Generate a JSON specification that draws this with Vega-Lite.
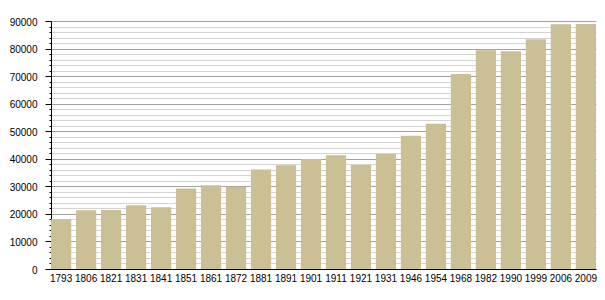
{
  "$schema": "https://vega.github.io/schema/vega-lite/v6.json",
  "width": 545,
  "height": 248,
  "autosize": "none",
  "padding": {"left": 51, "top": 21, "right": 9, "bottom": 31},
  "background": "white",
  "data": {"values": [
    {"year": "1793", "pop": 18050},
    {"year": "1806", "pop": 21300},
    {"year": "1821", "pop": 21400},
    {"year": "1831", "pop": 23100},
    {"year": "1841", "pop": 22400},
    {"year": "1851", "pop": 29200},
    {"year": "1861", "pop": 30400},
    {"year": "1872", "pop": 29850},
    {"year": "1881", "pop": 36100},
    {"year": "1891", "pop": 37650},
    {"year": "1901", "pop": 39950},
    {"year": "1911", "pop": 41250},
    {"year": "1921", "pop": 37700},
    {"year": "1931", "pop": 41750},
    {"year": "1946", "pop": 48400},
    {"year": "1954", "pop": 52700},
    {"year": "1968", "pop": 70750},
    {"year": "1982", "pop": 79400},
    {"year": "1990", "pop": 79050},
    {"year": "1999", "pop": 83400},
    {"year": "2006", "pop": 88800},
    {"year": "2009", "pop": 88900}
  ]},
  "config": {
    "view": {"stroke": null},
    "font": "Liberation Sans"
  },
  "mark": {"type": "bar", "color": "#CBBF96"},
  "encoding": {
    "x": {
      "field": "year", "type": "ordinal", "sort": null,
      "scale": {"paddingInner": 0.19, "paddingOuter": 0},
      "axis": {
        "title": null, "labelAngle": 0, "labelFontSize": 10, "labelColor": "#000",
        "domainColor": "#000", "domainWidth": 1, "ticks": false, "labelPadding": 4
      }
    },
    "y": {
      "field": "pop", "type": "quantitative",
      "scale": {"domain": [0, 90000], "nice": false},
      "axis": {
        "title": null,
        "values": [0,2000,4000,6000,8000,10000,12000,14000,16000,18000,20000,22000,24000,26000,28000,30000,32000,34000,36000,38000,40000,42000,44000,46000,48000,50000,52000,54000,56000,58000,60000,62000,64000,66000,68000,70000,72000,74000,76000,78000,80000,82000,84000,86000,88000,90000],
        "labelExpr": "datum.value % 10000 === 0 ? datum.value : ''",
        "format": "d",
        "labelFontSize": 10, "labelColor": "#000", "labelPadding": 8, "labelOffset": 1,
        "domainColor": "#000", "tickColor": "#000",
        "tickSize": {"condition": {"test": "datum.value % 10000 === 0", "value": 6}, "value": 2},
        "gridColor": {"condition": {"test": "datum.value % 10000 === 0", "value": "#a0a0a0"}, "value": "#d4d4d4"},
        "gridOpacity": 1,
        "grid": true
      }
    }
  }
}
